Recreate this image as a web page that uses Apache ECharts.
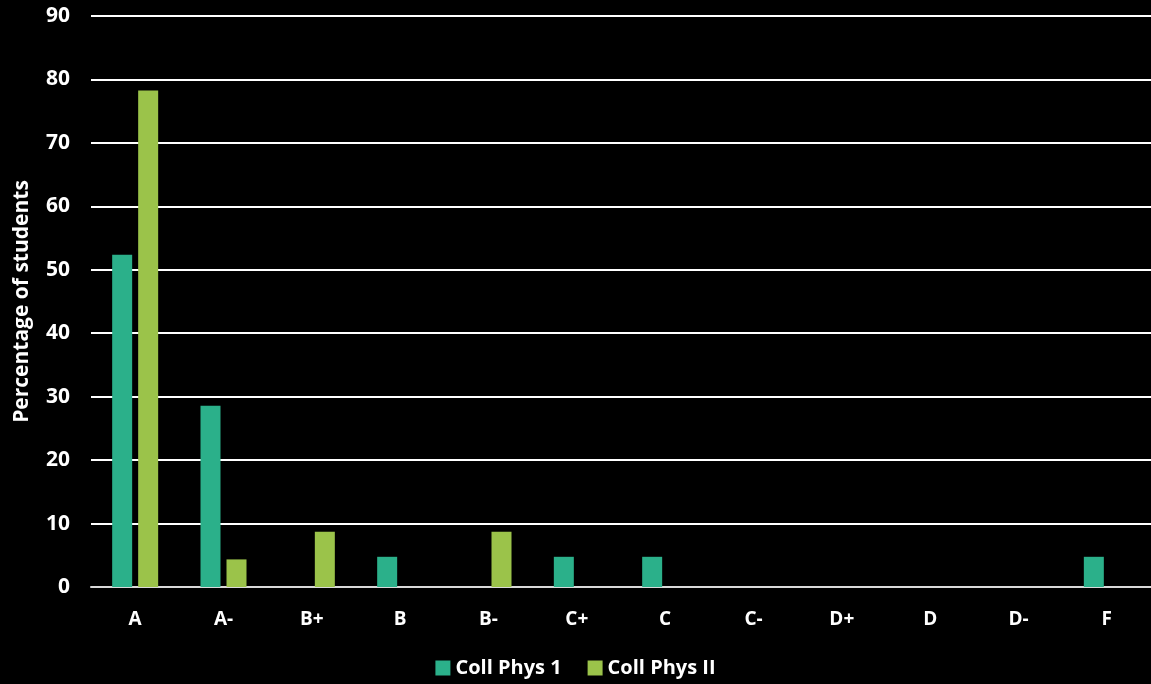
<!DOCTYPE html>
<html>
<head>
<meta charset="utf-8">
<script src="https://cdn.jsdelivr.net/npm/echarts@6/dist/echarts.min.js"></script>
<style>
  html, body { margin: 0; padding: 0; background: #000; }
  #chart { width: 1151px; height: 684px; }
</style>
</head>
<body>
<div id="chart"></div>
<script>
// Grade distribution (percent of students) for two physics courses
const grades = ['A', 'A-', 'B+', 'B', 'B-', 'C+', 'C', 'C-', 'D+', 'D', 'D-', 'F'];
const collPhys1 = [52.38, 28.57, 0, 4.76, 0, 4.76, 4.76, 0, 0, 0, 0, 4.76];
const collPhys2 = [78.26, 4.35, 8.70, 0, 8.70, 0, 0, 0, 0, 0, 0, 0];
const yTicks = [0, 10, 20, 30, 40, 50, 60, 70, 80, 90];

const font = '"Open Sans", "Liberation Sans", sans-serif';
const chart = echarts.init(document.getElementById('chart'));

chart.setOption({
  backgroundColor: '#000',
  animation: false,
  textStyle: { fontFamily: font },
  grid: { left: 91, top: 16, width: 1062, height: 571, containLabel: false },
  legend: {
    bottom: 1,
    left: 'center',
    itemWidth: 15,
    itemHeight: 15,
    itemGap: 26,
    icon: 'rect',
    textStyle: { color: '#fff', fontWeight: 'bold', fontSize: 20, fontFamily: font }
  },
  xAxis: {
    type: 'category',
    data: grades,
    axisLine: { lineStyle: { color: '#d9d9d9', width: 2 } },
    axisTick: { show: false },
    axisLabel: { color: '#fff', fontWeight: 'bold', fontSize: 19, margin: 23 }
  },
  yAxis: {
    type: 'value',
    min: yTicks[0],
    max: yTicks[yTicks.length - 1],
    interval: 10,
    name: 'Percentage of students',
    nameLocation: 'middle',
    nameGap: 58,
    nameTextStyle: { color: '#fff', fontWeight: 'bold', fontSize: 21 },
    axisLine: { show: false },
    axisTick: { show: false },
    axisLabel: { color: '#fff', fontWeight: 'bold', fontSize: 21, margin: 21 },
    splitLine: { lineStyle: { color: '#fff', width: 2 } }
  },
  series: [
    {
      name: 'Coll Phys 1',
      type: 'bar',
      data: collPhys1,
      barWidth: 20,
      barGap: '30%',
      itemStyle: { color: '#2bb08a' }
    },
    {
      name: 'Coll Phys II',
      type: 'bar',
      data: collPhys2,
      barWidth: 20,
      itemStyle: { color: '#9bc34a' }
    }
  ]
});
</script>
</body>
</html>
